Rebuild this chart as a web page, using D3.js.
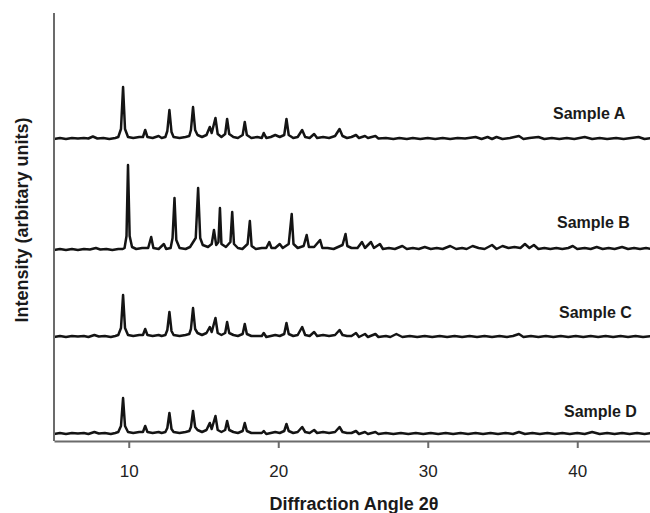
<!DOCTYPE html>
<html>
<head>
<meta charset="utf-8">
<script src="https://cdn.jsdelivr.net/npm/d3@7"></script>
<style>
  body { margin: 0; background: #fff; }
  text { font-family: 'Liberation Sans', Arial, sans-serif; }
</style>
</head>
<body>
<div id="chart"></div>
<script>
// sample names and vertical offset of each pattern (arbitrary units)
const sampleNames = ['Sample A', 'Sample B', 'Sample C', 'Sample D']
const sampleOffsets = [302, 191, 104, 7]
const xTicks = [10, 20, 30, 40]

// [2theta, intensity above baseline]
const sampleA = [
  [5, 0], [5.4, 1], [5.8, 0], [6.2, 1], [6.6, 0.5], [7.0, 1], [7.3, 0.5], [7.6, 2.5], [7.9, 0.5], [8.3, 1], [8.7, 0], [9.1, 1],
  [9.3, 2], [9.48, 10], [9.62, 52], [9.75, 10], [9.95, 2],
  [10.3, 1], [10.7, 2], [10.95, 2], [11.1, 9], [11.25, 2], [11.6, 1], [12.0, 3], [12.2, 1],
  [12.45, 2], [12.58, 8], [12.72, 29], [12.86, 7], [13.0, 2], [13.4, 1], [13.8, 2],
  [14.05, 3], [14.16, 9], [14.3, 32], [14.44, 9], [14.6, 4], [14.9, 2], [15.2, 4], [15.42, 12], [15.55, 6], [15.8, 21],
  [15.95, 5], [16.2, 2], [16.45, 5], [16.58, 20], [16.72, 5], [17.0, 2], [17.3, 1], [17.62, 4], [17.76, 17], [17.9, 4],
  [18.2, 1], [18.6, 2], [18.9, 1], [19.03, 6], [19.2, 1], [19.5, 2], [19.8, 4], [20.1, 2], [20.4, 4], [20.55, 20], [20.7, 4],
  [21.0, 1], [21.3, 2], [21.6, 9], [21.8, 2], [22.1, 1], [22.4, 5], [22.6, 1], [23.0, 2], [23.4, 1], [23.8, 3], [24.1, 10],
  [24.3, 3], [24.6, 1], [24.9, 2], [25.2, 4], [25.4, 1], [25.8, 3], [26.0, 1], [26.5, 3], [26.7, 0.5], [27.2, 1], [27.7, 0],
  [28.1, 1], [28.6, 0], [29.0, 1], [29.5, 0], [30.0, 1], [30.5, 0], [31.0, 1], [31.5, 0], [32.0, 1], [32.5, 0.5], [33.2, 2],
  [33.6, 0], [34.0, 2], [34.3, 0], [34.6, 2], [35.0, 0], [35.5, 1], [36.1, 3], [36.4, 0], [36.8, 1], [37.4, 2], [37.8, 0],
  [38.3, 1], [38.8, 0], [39.3, 1], [39.8, 0], [40.5, 2], [41.0, 0], [41.5, 1], [42.0, 0], [42.6, 1], [43.1, 0], [43.6, 1],
  [44.1, 2], [44.5, 0], [45, 1]
]

const sampleB = [
  [5, 0], [5.4, 1], [5.8, 0], [6.2, 1], [6.6, 0], [7.0, 1], [7.4, 0.5], [7.8, 2], [8.1, 0.5], [8.5, 1], [8.9, 0], [9.3, 1], [9.6, 1],
  [9.72, 2], [9.85, 14], [9.95, 85], [10.06, 14], [10.22, 3],
  [10.5, 1], [10.9, 2], [11.3, 2], [11.5, 13], [11.65, 2], [12.0, 1], [12.35, 6], [12.5, 1], [12.8, 2], [12.93, 12], [13.06, 52],
  [13.18, 10], [13.4, 2], [13.8, 1], [14.1, 3], [14.48, 12], [14.64, 62], [14.78, 12], [14.95, 5], [15.3, 3], [15.55, 6], [15.7, 20],
  [15.85, 5], [16.0, 8], [16.1, 42], [16.2, 6], [16.5, 3], [16.8, 8], [16.92, 38], [17.04, 6], [17.3, 2], [17.6, 1], [17.95, 6],
  [18.1, 29], [18.22, 4], [18.5, 1], [18.9, 2], [19.2, 2], [19.4, 8], [19.55, 2], [19.8, 2], [20.1, 6], [20.3, 2], [20.7, 6],
  [20.9, 36], [21.02, 6], [21.3, 2], [21.7, 4], [21.9, 15], [22.05, 3], [22.4, 3], [22.8, 10], [22.95, 2], [23.3, 2], [23.7, 1],
  [24.0, 3], [24.3, 5], [24.5, 16], [24.62, 4], [24.9, 2], [25.3, 2], [25.6, 8], [25.8, 2], [26.2, 8], [26.4, 2], [26.8, 6],
  [27.0, 1], [27.4, 2], [27.8, 1], [28.3, 4], [28.6, 1], [29.0, 2], [29.4, 1], [29.8, 3], [30.2, 1], [30.6, 2], [31.0, 1],
  [31.5, 4], [31.9, 1], [32.3, 2], [32.6, 1], [33.0, 4], [33.4, 2], [33.8, 1], [34.3, 5], [34.6, 1], [35.0, 4], [35.4, 2],
  [35.8, 3], [36.2, 2], [36.5, 6], [36.8, 2], [37.1, 5], [37.4, 1], [37.8, 2], [38.2, 1], [38.6, 2], [39.0, 1], [39.4, 2],
  [39.7, 4], [40.0, 1], [40.5, 2], [40.9, 1], [41.3, 3], [41.7, 1], [42.1, 2], [42.5, 1], [43.0, 3], [43.4, 1], [43.8, 2],
  [44.2, 1], [44.6, 2], [45, 1]
]

const sampleC = [
  [5, 0], [5.4, 1], [5.8, 0], [6.2, 1], [6.6, 0.5], [7.0, 1], [7.3, 0], [7.7, 2], [8.0, 0.5], [8.4, 1], [8.8, 0], [9.1, 1],
  [9.3, 2], [9.48, 9], [9.62, 42], [9.75, 9], [9.95, 2],
  [10.3, 1], [10.7, 2], [10.95, 2], [11.1, 8], [11.25, 2], [11.6, 1], [12.0, 2], [12.2, 1],
  [12.45, 2], [12.58, 7], [12.72, 25], [12.86, 6], [13.0, 2], [13.4, 1], [13.8, 2],
  [14.05, 3], [14.16, 8], [14.3, 29], [14.44, 8], [14.6, 4], [14.9, 2], [15.2, 4], [15.42, 10], [15.55, 5], [15.8, 19],
  [15.95, 4], [16.2, 2], [16.45, 4], [16.58, 15], [16.72, 4], [17.0, 2], [17.3, 1], [17.62, 3], [17.76, 13], [17.9, 3],
  [18.2, 1], [18.6, 1], [18.9, 1], [19.03, 4], [19.2, 0], [19.5, 1], [19.8, 2], [20.1, 1], [20.4, 3], [20.55, 14], [20.7, 3],
  [21.0, 1], [21.3, 2], [21.6, 10], [21.8, 2], [22.1, 1], [22.4, 5], [22.6, 1], [23.0, 2], [23.4, 1], [23.8, 2], [24.1, 7],
  [24.3, 2], [24.6, 1], [24.9, 1], [25.2, 4], [25.4, 0], [25.8, 3], [26.0, 0], [26.5, 3], [26.7, 0], [27.2, 1], [27.5, 0],
  [27.9, 3], [28.3, 0], [28.8, 1], [29.3, 0], [29.8, 1], [30.3, 0], [30.8, 1], [31.3, 0], [31.8, 1], [32.3, 0], [32.8, 1],
  [33.3, 0], [33.8, 1], [34.3, 0], [34.8, 1], [35.3, 0], [35.7, 1], [36.1, 3], [36.4, 0], [36.9, 1], [37.4, 0], [37.9, 1],
  [38.4, 0], [38.9, 1], [39.4, 0], [39.9, 1], [40.4, 0], [40.9, 1], [41.4, 0], [41.9, 1], [42.4, 0], [42.9, 1], [43.4, 0],
  [43.9, 1], [44.4, 0], [45, 1]
]

const sampleD = [
  [5, 0], [5.4, 1], [5.8, 0], [6.2, 1], [6.6, 0.5], [7.0, 1], [7.3, 0], [7.7, 2], [8.0, 0.5], [8.4, 1], [8.8, 0], [9.1, 1],
  [9.3, 2], [9.48, 8], [9.62, 36], [9.75, 8], [9.95, 2],
  [10.3, 1], [10.7, 2], [10.95, 2], [11.1, 8], [11.25, 2], [11.6, 1], [12.0, 2], [12.2, 1],
  [12.45, 2], [12.58, 6], [12.72, 21], [12.86, 5], [13.0, 2], [13.4, 1], [13.8, 2],
  [14.05, 3], [14.16, 7], [14.3, 23], [14.44, 7], [14.6, 4], [14.9, 2], [15.2, 4], [15.42, 11], [15.55, 5], [15.8, 18],
  [15.95, 4], [16.2, 2], [16.45, 4], [16.58, 13], [16.72, 4], [17.0, 2], [17.3, 1], [17.62, 3], [17.76, 11], [17.9, 3],
  [18.2, 1], [18.6, 1], [18.9, 1], [19.03, 3], [19.2, 0], [19.5, 1], [19.8, 2], [20.1, 1], [20.4, 3], [20.55, 10], [20.7, 3],
  [21.0, 1], [21.3, 2], [21.6, 7], [21.8, 2], [22.1, 1], [22.4, 4], [22.6, 1], [23.0, 2], [23.4, 1], [23.8, 2], [24.1, 7],
  [24.3, 2], [24.6, 1], [24.9, 1], [25.2, 3], [25.4, 0], [25.8, 2], [26.0, 0], [26.5, 2], [26.7, 0], [27.2, 1], [27.7, 0],
  [28.2, 1], [28.7, 0], [29.2, 1], [29.7, 0], [30.2, 1], [30.7, 0], [31.2, 1], [31.7, 0], [32.2, 1], [32.7, 0], [33.2, 1],
  [33.7, 0], [34.2, 1], [34.7, 0], [35.2, 1], [35.7, 0], [36.1, 2], [36.5, 0], [37.0, 1], [37.5, 0], [38.0, 1], [38.5, 0],
  [39.0, 1], [39.5, 0], [40.0, 1], [40.5, 0], [41.0, 2], [41.5, 0], [42.0, 1], [42.5, 0], [43.0, 1], [43.5, 0], [44.0, 1],
  [44.5, 0], [45, 1]
]

const samples = [sampleA, sampleB, sampleC, sampleD]

const margin = { top: 13, right: -2, bottom: 72, left: 54 }
const width = 650 - margin.left - margin.right
const height = 513 - margin.top - margin.bottom

const svg = d3
  .select('#chart')
  .append('svg')
  .attr('width', 650)
  .attr('height', 513)

const g = svg
  .append('g')
  .attr('transform', 'translate(' + margin.left + ',' + margin.top + ')')

const xPositionScale = d3.scaleLinear()
  .domain([5, 45])
  .range([0, width])

const yPositionScale = d3.scaleLinear()
  .domain([0, height])
  .range([height, 0])

const line = d3.line()
  .x(d => xPositionScale(d[0]))
  .y(d => yPositionScale(d[1]))

// one trace per sample, shifted up by its offset
samples.forEach((points, i) => {
  g.append('path')
    .datum(points.map(d => [d[0], d[1] + sampleOffsets[i]]))
    .attr('d', line)
    .attr('fill', 'none')
    .attr('stroke', '#141414')
    .attr('stroke-width', 2.5)
    .attr('stroke-linejoin', 'round')
})

// sample labels sit above the right part of each trace
const labelX = [553, 557, 559, 564]
const labelY = [119, 228, 318, 417]
sampleNames.forEach((name, i) => {
  svg.append('text')
    .attr('x', labelX[i])
    .attr('y', labelY[i])
    .attr('font-size', 16)
    .attr('font-weight', 'bold')
    .attr('fill', '#1a1a1a')
    .text(name)
})

/* Set up axes */
const xAxis = d3.axisBottom(xPositionScale)
  .tickValues(xTicks)
  .tickSize(7)
  .tickSizeOuter(0)
  .tickPadding(17)

const xAxisG = g.append('g')
  .attr('class', 'axis x-axis')
  .attr('transform', 'translate(0,' + height + ')')
  .call(xAxis)

xAxisG.select('.domain').attr('stroke', '#6b6b6b').attr('stroke-width', 2)
xAxisG.selectAll('.tick line').attr('stroke', '#6b6b6b').attr('stroke-width', 2)
xAxisG.selectAll('.tick text')
  .attr('font-size', 17)
  .attr('fill', '#222')
  .attr('font-family', "'Liberation Sans', Arial, sans-serif")

// plain left axis, no ticks
g.append('line')
  .attr('x1', 0)
  .attr('y1', 0)
  .attr('x2', 0)
  .attr('y2', height)
  .attr('stroke', '#6b6b6b')
  .attr('stroke-width', 2)

svg.append('text')
  .attr('x', 354)
  .attr('y', 510)
  .attr('text-anchor', 'middle')
  .attr('font-size', 18)
  .attr('font-weight', 'bold')
  .attr('fill', '#1a1a1a')
  .text('Diffraction Angle 2θ')

svg.append('text')
  .attr('transform', 'translate(28,220) rotate(-90)')
  .attr('text-anchor', 'middle')
  .attr('font-size', 18)
  .attr('font-weight', 'bold')
  .attr('fill', '#1a1a1a')
  .text('Intensity (arbitary units)')
</script>
</body>
</html>
